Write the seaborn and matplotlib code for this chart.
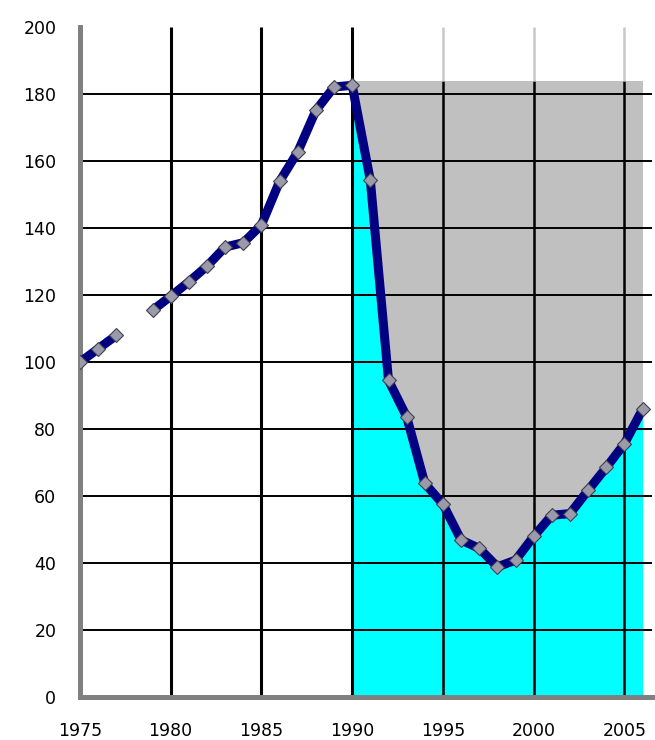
import numpy as np
import pandas as pd
import matplotlib
matplotlib.use("Agg")
import matplotlib.pyplot as plt
import seaborn as sns

# index values (1978 is missing in the source)
years = [1975, 1976, 1977, 1978, 1979, 1980, 1981, 1982, 1983, 1984,
         1985, 1986, 1987, 1988, 1989, 1990, 1991, 1992, 1993, 1994,
         1995, 1996, 1997, 1998, 1999, 2000, 2001, 2002, 2003, 2004,
         2005, 2006]
values = [100, 104, 108, np.nan, 115.5, 119.7, 124, 128.7, 134.4, 135.7,
          141, 154, 162.8, 175.2, 182.2, 182.7, 154.3, 94.6, 83.7, 63.8,
          57.6, 46.9, 44.4, 38.9, 40.9, 48, 54.3, 54.8, 61.8, 68.6,
          75.7, 86]

x_ticks = [1975, 1980, 1985, 1990, 1995, 2000, 2005]
y_ticks = [0, 20, 40, 60, 80, 100, 120, 140, 160, 180, 200]
shade_start = 1990
shade_top = 184

df = pd.DataFrame({"year": years, "value": values})
df["segment"] = df["value"].isna().cumsum()
df = df.dropna()

sns.set_style("white")
plt.rcParams["font.family"] = ["DejaVu Sans"]

fig = plt.figure(figsize=(6.55, 7.4), dpi=100)
ax = fig.add_axes([0.122, 0.058, 0.873, 0.905])

# shaded areas after 1990
after = df[df["year"] >= shade_start]
ax.fill_between(after["year"], 0, shade_top, color="#c0c0c0", lw=0, zorder=0.5)
ax.fill_between(after["year"], 0, after["value"], color="#00ffff", lw=0, zorder=0.6)

# grid
for yv in y_ticks[1:-1]:
    ax.axhline(yv, color="black", lw=1.4, zorder=1)
for xv in x_ticks[1:]:
    if xv > shade_start:
        ax.vlines(xv, 0, shade_top, color="black", lw=1.8, zorder=1)
        ax.vlines(xv, shade_top, 200, color="#c8c8c8", lw=1.8, zorder=1)
    else:
        ax.vlines(xv, 0, 200, color="black", lw=2.2, zorder=1)

sns.lineplot(data=df, x="year", y="value", units="segment", estimator=None,
             color="#000080", lw=6.5, marker="D", markersize=7,
             markerfacecolor="#9a9aaa", markeredgecolor="#404050",
             markeredgewidth=0.8, ax=ax, zorder=3)

ax.set_xlim(1975, 2006.5)
ax.set_ylim(0, 200)
ax.set_xticks(x_ticks)
ax.set_yticks(y_ticks)
ax.set_xlabel("")
ax.set_ylabel("")

for side in ["top", "right"]:
    ax.spines[side].set_visible(False)
for side in ["left", "bottom"]:
    ax.spines[side].set_color("#808080")
    ax.spines[side].set_linewidth(3.6)
    ax.spines[side].set_zorder(2)

ax.tick_params(direction="out", length=5, width=2, color="#808080",
               labelsize=12.5, labelcolor="black")
ax.tick_params(axis="y", pad=12)
ax.tick_params(axis="x", pad=13)

fig.savefig("out.png", dpi=100)
